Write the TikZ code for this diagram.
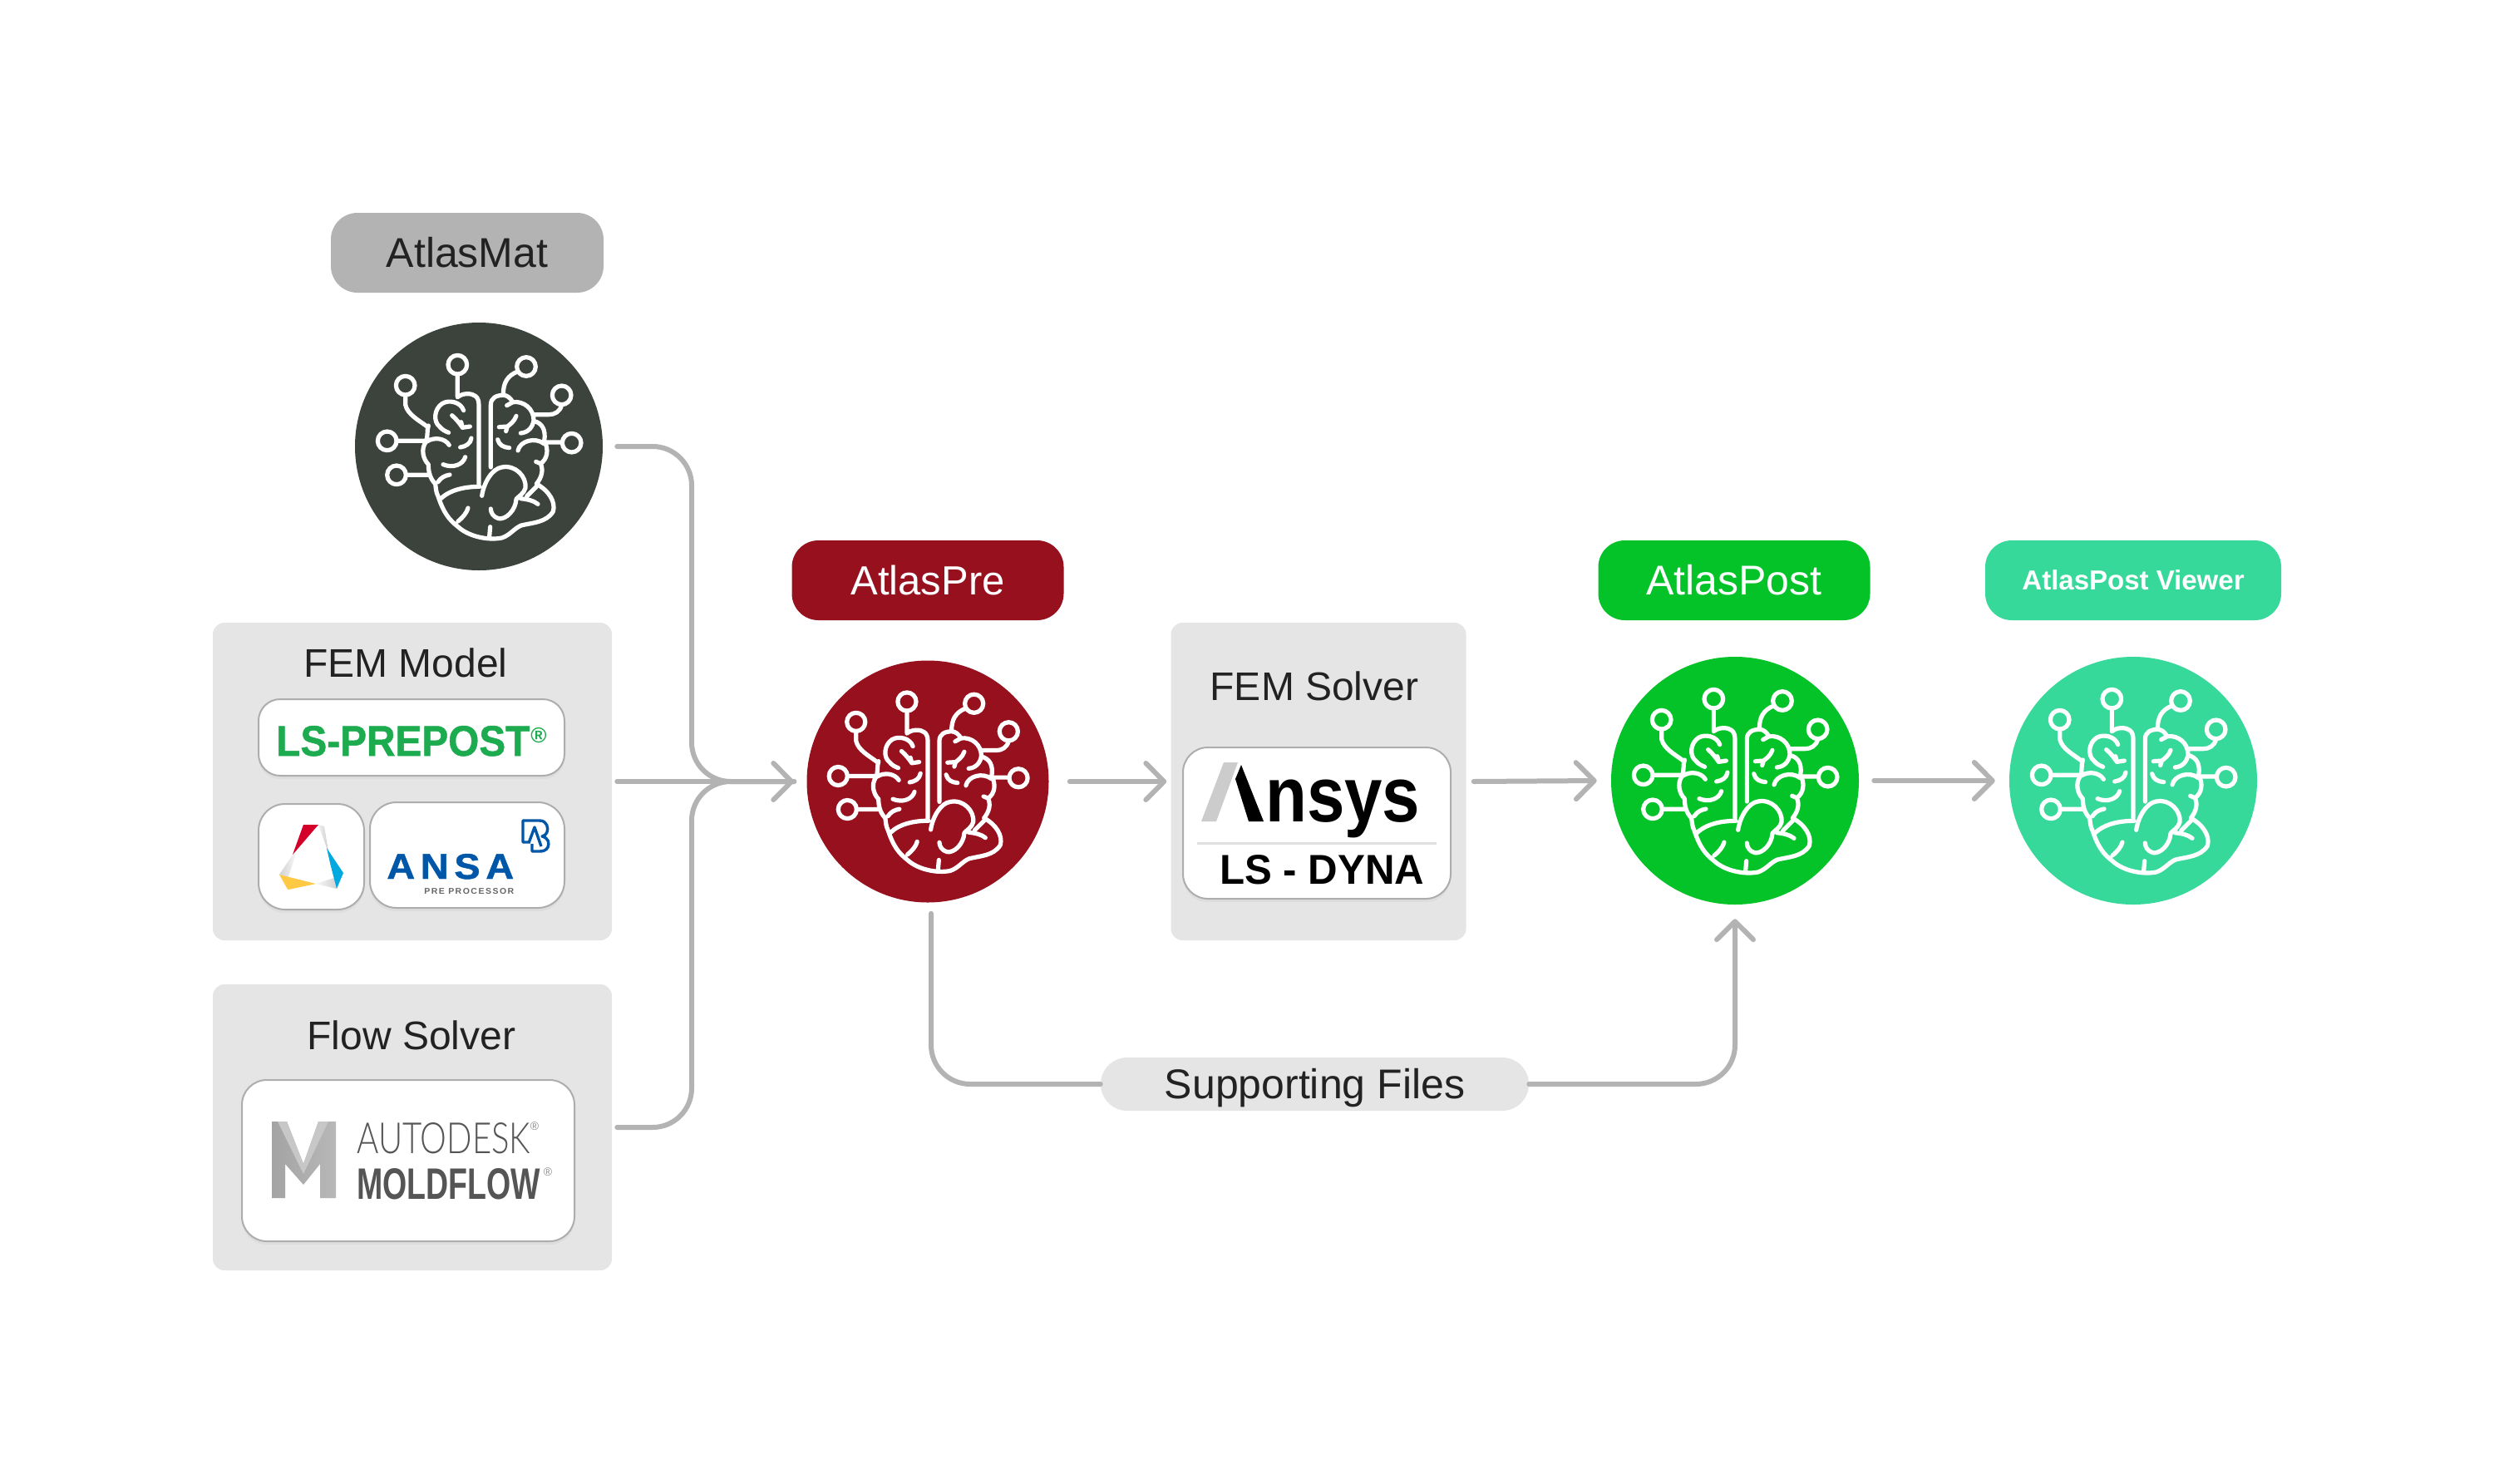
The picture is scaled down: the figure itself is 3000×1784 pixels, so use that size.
\documentclass[tikz,border=0pt]{standalone}
\usepackage{fontspec}
\usepackage{graphicx}
\usetikzlibrary{arrows.meta,shadows}
\setmainfont{Liberation Sans}
\newfontfamily\lightf{Lato Light}
\newdimen\px \px=0.025cm
\newcommand\fz[1]{\fontsize{#1\px}{#1\px}\selectfont}
\definecolor{conncol}{HTML}{B3B3B3}
\definecolor{panelcol}{HTML}{E5E5E5}
\definecolor{matcol}{HTML}{3B433C}
\definecolor{precol}{HTML}{96101E}
\definecolor{postcol}{HTML}{04C329}
\definecolor{viewcol}{HTML}{37D99B}
\definecolor{inkcol}{HTML}{222222}
\definecolor{lsgreen}{HTML}{1DAB4F}
\definecolor{ansablue}{HTML}{0057A8}
\definecolor{logogray}{HTML}{555555}
\definecolor{altred}{HTML}{D4002A}
\definecolor{altblue}{HTML}{00A9E0}
\definecolor{altyellow}{HTML}{FFC845}
\tikzset{
  conn/.style={draw=conncol,line width=6\px,line cap=round,rounded corners=47\px},
  arrowed/.style={conn,-{Straight Barb[round,length=15.6pt,width=31.3pt]}},
  pill/.style={rounded corners=32\px,inner sep=0pt,text height=35\px,text depth=0pt,font=\fz{49}},
  panel/.style={fill=panelcol,rounded corners=14\px,inner sep=0pt},
  card/.style={fill=white,draw=black!32,line width=2\px,inner sep=0pt,
    drop shadow={shadow xshift=0pt,shadow yshift=-3pt,opacity=.07}},
  disc/.style={circle,inner sep=0pt},
  title/.style={anchor=base,inner sep=0pt,font=\fz{48},text=inkcol},
  logo/.style={anchor=base west,inner sep=0pt},
  brainline/.style={draw=white,line width=5.2\px,line cap=round,line join=round}
}
\newcommand\brain[3]{%
\begin{scope}[shift={(#1,#2)},scale=#3,shift={(-527,-500)}]
\path[brainline]
 (262,280) circle[radius=34] (450,205) circle[radius=34] (698,212) circle[radius=34]
 (826,315) circle[radius=34] (862,487) circle[radius=34] (196,480) circle[radius=34] (230,603) circle[radius=34]
 (262,315) -- (262,350) .. controls (270,385) and (310,405) .. (340,428)
 (450,240) -- (450,320)
 (666,230) .. controls (630,245) and (615,270) .. (615,312)
 (826,350) .. controls (820,375) and (800,385) .. (780,385) -- (725,385)
 (827,485) -- (762,485)
 (231,480) -- (332,480)
 (265,603) -- (342,603)
 (527,635) -- (527,350) .. controls (527,320) and (510,310) .. (485,310) .. controls (470,310) and (460,315) .. (450,322)
 (472,370) .. controls (462,340) and (420,330) .. (395,345) .. controls (365,365) and (362,410) .. (385,428) .. controls (395,440) and (405,445) .. (418,450)
 (345,425) .. controls (338,445) and (345,465) .. (335,485) .. controls (318,510) and (325,545) .. (345,565) .. controls (345,590) and (350,615) .. (370,635) .. controls (372,650) and (372,665) .. (380,680)
 (340,482) .. controls (365,465) and (405,470) .. (420,495)
 (430,388) .. controls (445,400) and (460,420) .. (468,432)
 (468,432) -- (495,428) (463,412) -- (468,432)
 (500,470) .. controls (497,490) and (480,500) .. (460,503)
 (478,538) .. controls (470,565) and (435,580) .. (398,565)
 (380,628) .. controls (390,612) and (405,605) .. (422,602)
 (530,645) .. controls (480,645) and (425,655) .. (390,688)
 (380,680) .. controls (400,740) and (420,765) .. (452,790) .. controls (490,825) and (560,840) .. (610,830) .. controls (640,820) and (655,795) .. (680,785) .. controls (720,775) and (770,775) .. (795,735) .. controls (805,700) and (780,660) .. (735,635)
 (568,790) -- (565,825)
 (452,770) .. controls (470,755) and (483,740) .. (488,722)
 (570,575) -- (570,350) .. controls (570,325) and (590,315) .. (615,315) .. controls (630,315) and (640,325) .. (650,340) .. controls (690,335) and (725,365) .. (725,405) .. controls (722,430) and (705,450) .. (678,452)
 (725,408) .. controls (755,415) and (770,440) .. (763,480) .. controls (780,510) and (775,545) .. (750,562) .. controls (760,585) and (755,610) .. (735,635)
 (668,515) .. controls (675,480) and (730,465) .. (762,490)
 (662,390) .. controls (655,410) and (640,420) .. (630,428) (630,428) -- (600,430) (630,428) -- (625,445)
 (595,475) .. controls (600,495) and (615,503) .. (637,505)
 (650,340) -- (628,352)
 (733,555) -- (750,562)
 (538,678) .. controls (545,630) and (575,580) .. (610,575) .. controls (660,565) and (700,610) .. (695,650) .. controls (690,670) and (670,680) .. (662,690) .. controls (660,730) and (625,765) .. (598,760) .. controls (580,755) and (570,740) .. (570,725)
 (678,688) .. controls (700,690) and (725,695) .. (740,708)
 (700,680) -- (735,645);
\end{scope}}
\begin{document}
\begin{tikzpicture}[x=0.025cm,y=-0.025cm]
\useasboundingbox (0,0) rectangle (3000,1784);
\fill[white] (0,0) rectangle (3000,1784);

% panels
\node[panel,minimum width=480*\px,minimum height=382*\px] (femmodel) at (496,940) {};
\node[panel,minimum width=480*\px,minimum height=344*\px] (flowsolver) at (496,1356) {};
\node[panel,minimum width=355*\px,minimum height=382*\px] (femsolver) at (1586,940) {};
\node[title] (femmodeltitle) at (488,814) {FEM Model};
\node[title] (flowsolvertitle) at (495,1262) {Flow Solver};
\node[title] (femsolvertitle) at (1581,842) {FEM Solver};

% cards
\node[card,rounded corners=26\px,minimum width=368*\px,minimum height=92*\px] (lscard) at (495,887) {};
\node[card,rounded corners=32\px,minimum width=127*\px,minimum height=127*\px] (altaircard) at (374.5,1030.5) {};
\node[card,rounded corners=32\px,minimum width=234*\px,minimum height=127*\px] (ansacard) at (562,1028.5) {};
\node[card,rounded corners=30\px,minimum width=400*\px,minimum height=194*\px] (moldcard) at (491,1396) {};
\node[card,rounded corners=30\px,minimum width=322*\px,minimum height=182*\px] (dynacard) at (1584,990) {};

% LS-PrePost
\node[logo,text=lsgreen] (lstext) at (332,909) {\resizebox{305\px}{36\px}{\bfseries\addfontfeature{FakeBold=1}LS-PREPOST}};
\node[logo,text=lsgreen,font=\fz{26}\bfseries] (lsreg) at (638,893) {®};

% Altair mark
\shade[left color=black!6,right color=black!22] (383,992) -- (390,994) -- (398,1042) -- (393,1020) -- cycle;
\shade[left color=black!3,right color=black!18] (380,1063) -- (405,1069) -- (402,1056) -- cycle;
\shade[left color=black!18,right color=black!3] (352,1028) -- (336,1052) -- (347,1055) -- (356,1027) -- cycle;
\fill[altred] (365,992) -- (383,992) -- (352,1028) -- cycle;
\fill[altblue] (393,1020) -- (413,1050) -- (405,1069) -- (398,1042) -- cycle;
\fill[altyellow] (336,1052) -- (380,1063) -- (347,1070) -- (345,1068) -- cycle;

% ANSA
\node[logo,text=ansablue] (ansatext) at (465,1057) {\resizebox{153\px}{30\px}{\bfseries\addfontfeature{LetterSpace=14,FakeBold=1}ANSA}};
\node[logo,text=black!60] (ansasub) at (510,1075) {\resizebox{108\px}{7\px}{\bfseries\addfontfeature{LetterSpace=14}PRE PROCESSOR}};
\draw[ansablue,line width=3.4\px,line join=round]
  (638,1013) -- (629,1013) -- (629,987) -- (649,987) .. controls (658,987) and (660,996) .. (658,1001) .. controls (657,1004) and (655,1005) .. (652,1006)
  .. controls (660,1008) and (661,1014) .. (659,1019) .. controls (657,1023) and (653,1024) .. (649,1024) -- (640,1024) -- (640,1015)
  (636,1014) -- (643,995) -- (651,1018);

% Moldflow
\shade[left color=black!36,right color=black!28] (327,1349) -- (345,1349) -- (365,1400) -- (383,1349) -- (404,1349) -- (404,1441) -- (385,1441) -- (385,1400) -- (365,1425) -- (343,1400) -- (343,1441) -- (327,1441) -- cycle;
\fill[black!22] (334,1349) -- (345,1349) -- (365,1400) -- (365,1412) -- cycle;
\fill[black!22] (383,1349) -- (395,1349) -- (365,1412) -- (365,1400) -- cycle;
\node[logo,text=logogray] (autodesk) at (429,1387) {\resizebox{209\px}{37\px}{\lightf AUTODESK}};
\node[logo,text=logogray] (moldflow) at (429,1442) {\resizebox{221\px}{37\px}{\bfseries MOLDFLOW}};
\node[inner sep=0pt,text=black!45,font=\fz{14}] (regone) at (643,1355) {®};
\node[inner sep=0pt,text=black!45,font=\fz{14}] (regtwo) at (659,1410) {®};

% Ansys / LS-DYNA
\fill[black!20] (1445,988) -- (1472,917) -- (1489,917) -- (1463,988) -- cycle;
\fill[black] (1493,920) -- (1520,988) -- (1502,988) -- (1486,937) -- cycle;
\node[logo,text=black] (nsys) at (1522,988) {\resizebox*{186\px}{70\px}{\bfseries nsys}};
\draw[black!12,line width=3\px] (1440,1014) -- (1728,1014);
\node[logo,text=black] (lsdyna) at (1467,1063) {\resizebox{246\px}{35\px}{\bfseries LS - DYNA}};

% pills
\node[pill,fill=conncol,text=inkcol,font=\fz{50},minimum width=328*\px,minimum height=96*\px] (matlabel) at (562,304) {AtlasMat};
\node[pill,fill=precol,text=white,minimum width=327*\px,minimum height=96*\px] (prelabel) at (1116,698) {AtlasPre};
\node[pill,fill=postcol,text=white,font=\fz{50},minimum width=327*\px,minimum height=96*\px] (postlabel) at (2086,698) {AtlasPost};
\node[pill,fill=viewcol,text=white,font=\fz{33}\bfseries,text height=23\px,minimum width=356*\px,minimum height=96*\px] (viewlabel) at (2566,698) {AtlasPost Viewer};
\node[pill,fill=panelcol,text=inkcol,font=\fz{50},minimum width=515*\px,minimum height=64*\px] (support) at (1581.5,1304) {Supporting Files};

% discs
\node[disc,fill=matcol,minimum size=298*\px] (mat) at (576,537) {};
\node[disc,fill=precol,minimum size=291*\px] (pre) at (1116,940) {};
\node[disc,fill=postcol,minimum size=298*\px] (post) at (2087,939) {};
\node[disc,fill=viewcol,minimum size=298*\px] (view) at (2566,939) {};
\brain{576}{537}{0.3333}
\brain{1116}{940}{0.3255}
\brain{2087}{939}{0.3333}
\brain{2566}{939}{0.3333}

% connectors
\coordinate (pretarget) at ([xshift=-15\px]pre.west);
\draw[conn] ([xshift=17\px]mat.east) -- (832,537) -- (832,940) -- (pretarget);
\draw[conn] ([xshift=6\px]flowsolver.east) -- (832,1356) -- (832,940) -- (pretarget);
\draw[arrowed] ([xshift=6\px]femmodel.east) -- (pretarget);
\draw[arrowed] ([xshift=25\px]pre.east) -- ([xshift=-5\px]femsolver.west);
\draw[arrowed] ([xshift=9\px]femsolver.east) -- ([xshift=-17\px]post.west);
\draw[arrowed] ([xshift=18\px]post.east) -- ([xshift=-17\px]view.west);
\draw[conn] ([xshift=4\px,yshift=-13\px]pre.south) -- (1120,1304) -- (support.west);
\draw[arrowed] (support.east) -- (2087,1304) -- ([yshift=-17\px]post.south);
\end{tikzpicture}
\end{document}
